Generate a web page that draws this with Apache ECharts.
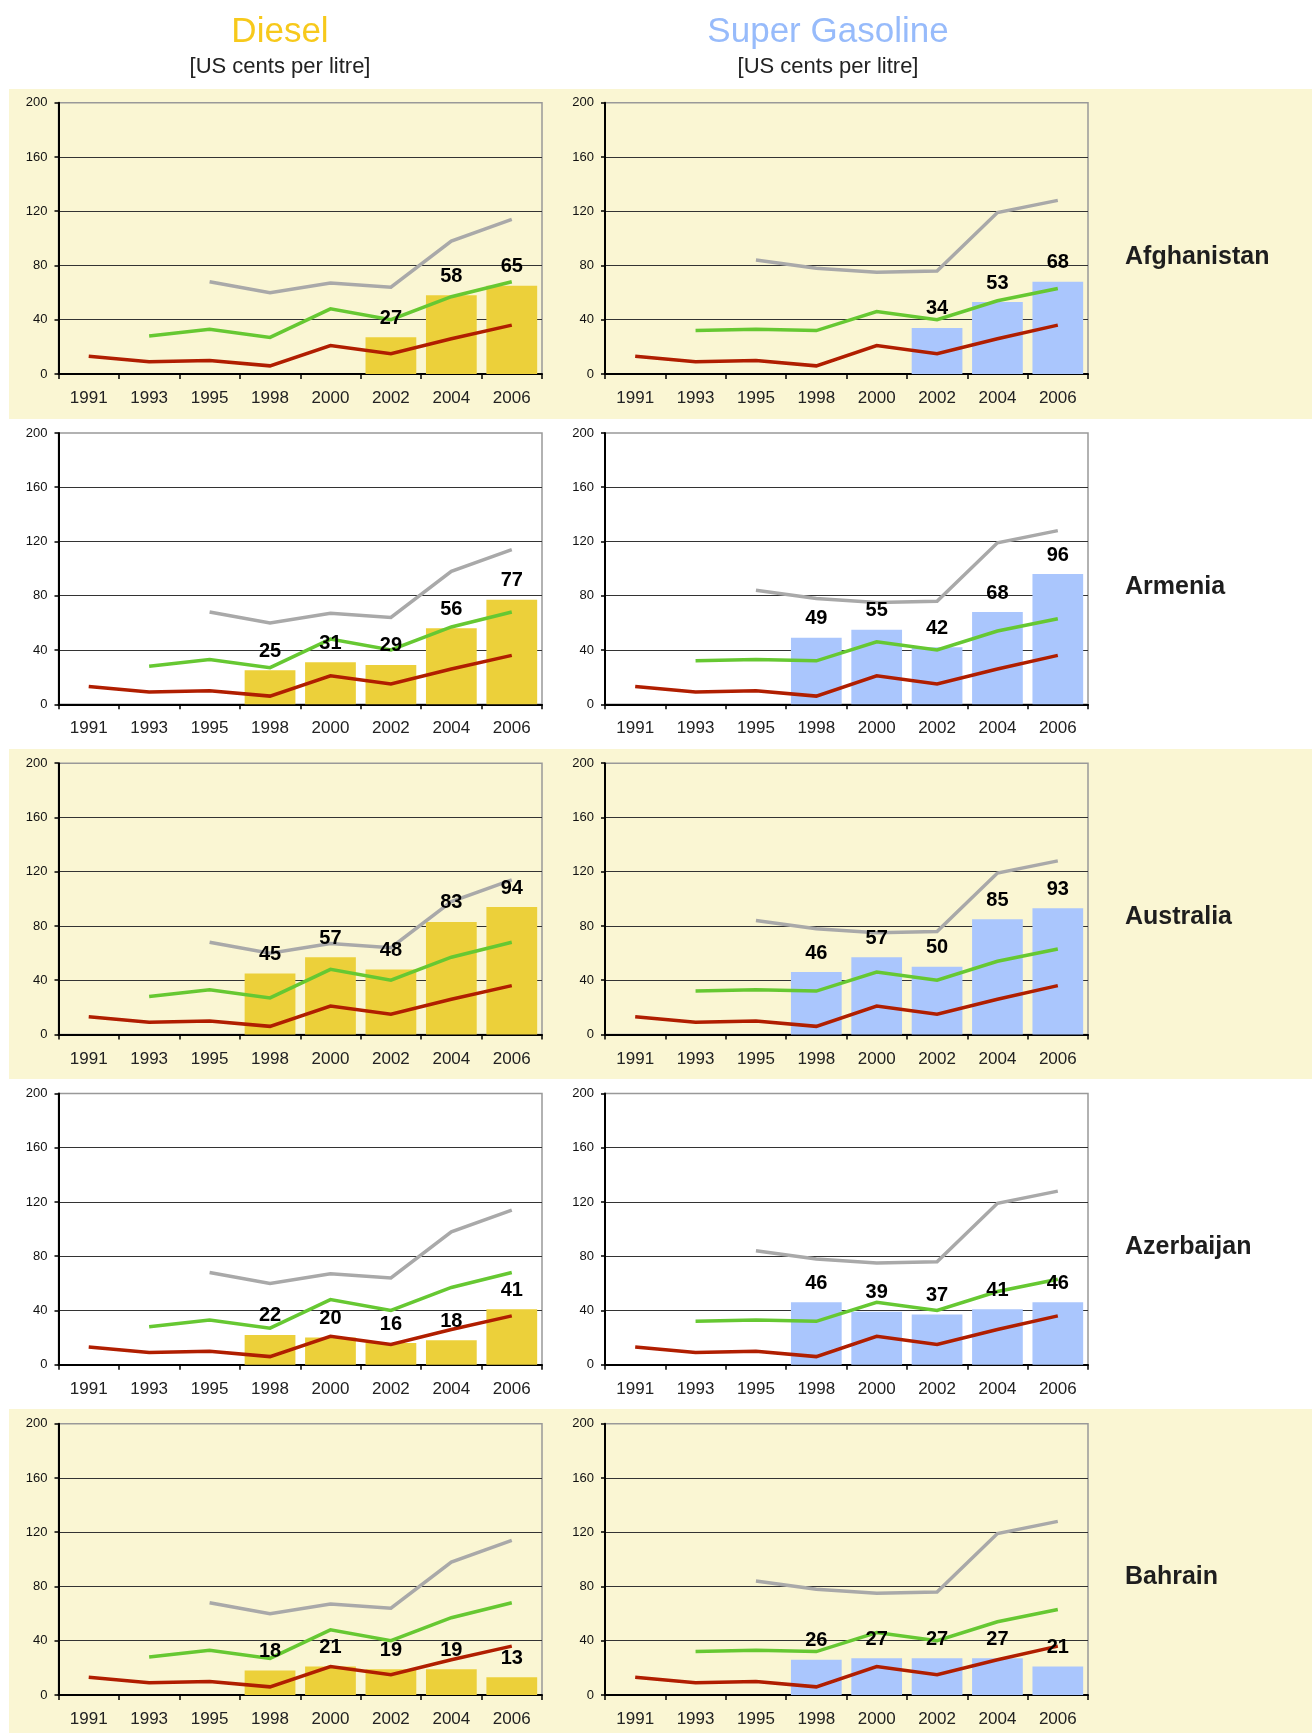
<!DOCTYPE html>
<html>
<head>
<meta charset="utf-8">
<script src="https://cdn.jsdelivr.net/npm/echarts@6/dist/echarts.min.js"></script>
<style>
html,body{margin:0;padding:0;background:#ffffff;}
#chart{width:1312px;height:1733px;}
</style>
</head>
<body>
<div id="chart"></div>
<script>
// ---- Data ----
const years = ['1991', '1993', '1995', '1998', '2000', '2002', '2004', '2006'];
const countries = ['Afghanistan', 'Armenia', 'Australia', 'Azerbaijan', 'Bahrain'];
const yTicks = [0, 40, 80, 120, 160, 200];

// Country bar values (US cents per litre)
const dieselAfghanistan   = [null, null, null, null, null, 27, 58, 65];
const gasolineAfghanistan = [null, null, null, null, null, 34, 53, 68];
const dieselArmenia       = [null, null, null, 25, 31, 29, 56, 77];
const gasolineArmenia     = [null, null, null, 49, 55, 42, 68, 96];
const dieselAustralia     = [null, null, null, 45, 57, 48, 83, 94];
const gasolineAustralia   = [null, null, null, 46, 57, 50, 85, 93];
const dieselAzerbaijan    = [null, null, null, 22, 20, 16, 18, 41];
const gasolineAzerbaijan  = [null, null, null, 46, 39, 37, 41, 46];
const dieselBahrain       = [null, null, null, 18, 21, 19, 19, 13];
const gasolineBahrain     = [null, null, null, 26, 27, 27, 27, 21];

// Benchmark lines (same in every row)
const dieselGrayLine    = [null, null, 68, 60, 67, 64, 98, 114];
const dieselGreenLine   = [null, 28, 33, 27, 48, 40, 57, 68];
const dieselRedLine     = [13, 9, 10, 6, 21, 15, 26, 36];
const gasolineGrayLine  = [null, null, 84, 78, 75, 76, 119, 128];
const gasolineGreenLine = [null, 32, 33, 32, 46, 40, 54, 63];
const gasolineRedLine   = [13, 9, 10, 6, 21, 15, 26, 36];

const dieselByCountry = [dieselAfghanistan, dieselArmenia, dieselAustralia, dieselAzerbaijan, dieselBahrain];
const gasolineByCountry = [gasolineAfghanistan, gasolineArmenia, gasolineAustralia, gasolineAzerbaijan, gasolineBahrain];

// ---- Styling / layout ----
const FONT = '"Liberation Sans", Arial, Helvetica, sans-serif';
const DIESEL_COLOR = '#ecd03a';
const GASOLINE_COLOR = '#aac6fd';
const BAND_COLOR = '#faf6d3';
const ROW_PITCH = 330.25;
const GRID_TOP0 = 102.7;
const GRID_H = 271.3;
const COLS = [
  { left: 58.5, width: 483.5, bars: dieselByCountry, color: DIESEL_COLOR,
    lines: [dieselGrayLine, dieselGreenLine, dieselRedLine] },
  { left: 605, width: 483, bars: gasolineByCountry, color: GASOLINE_COLOR,
    lines: [gasolineGrayLine, gasolineGreenLine, gasolineRedLine] }
];
const LINE_COLORS = ['#a9a9a9', '#66c832', '#b01e00'];

const grids = [], xAxes = [], yAxes = [], series = [], graphics = [];

// background bands
for (let r = 0; r < countries.length; r += 2) {
  graphics.push({
    type: 'rect', z: -10, silent: true,
    shape: { x: 9, y: 89 + 330 * r, width: 1312 - 9, height: 330 },
    style: { fill: BAND_COLOR }
  });
}
// country names
countries.forEach((c, r) => {
  graphics.push({
    type: 'text', z: 10, x: 1125, y: 257 + 330 * r,
    style: { text: c, font: 'bold 25px ' + FONT, fill: '#1e1e1e', textVerticalAlign: 'middle', textAlign: 'left' }
  });
});
// headers
[['Diesel', 280, '#f7c91b'], ['Super Gasoline', 828, '#97bbfb']].forEach(([t, x, col]) => {
  graphics.push({ type: 'text', x: x, y: 32,
    style: { text: t, font: '35px ' + FONT, fill: col, textAlign: 'center', textVerticalAlign: 'middle' } });
  graphics.push({ type: 'text', x: x, y: 67,
    style: { text: '[US cents per litre]', font: '22px ' + FONT, fill: '#222', textAlign: 'center', textVerticalAlign: 'middle' } });
});

let gi = 0;
for (let r = 0; r < countries.length; r++) {
  COLS.forEach((col) => {
    grids.push({
      left: col.left, width: col.width,
      top: GRID_TOP0 + ROW_PITCH * r, height: GRID_H,
      show: true, borderColor: '#999', borderWidth: 1.5, backgroundColor: 'transparent'
    });
    xAxes.push({
      type: 'category', gridIndex: gi, data: years, boundaryGap: true,
      axisLine: { lineStyle: { color: '#000', width: 2 } },
      axisTick: { show: true, length: 5, lineStyle: { color: '#000', width: 1.5 } },
      axisLabel: { fontSize: 17, color: '#222', margin: 16, fontFamily: FONT },
      splitLine: { show: false }
    });
    yAxes.push({
      type: 'value', gridIndex: gi, min: 0, max: 200, interval: 40,
      axisLine: { show: true, lineStyle: { color: '#000', width: 2 } },
      axisTick: { show: true, length: 4, lineStyle: { color: '#000', width: 1.5 } },
      axisLabel: { fontSize: 13, color: '#111', margin: 11, fontFamily: FONT,
        formatter: (v) => yTicks.includes(v) ? String(v) : '' },
      splitLine: { show: true, showMaxLine: false, showMinLine: false, lineStyle: { color: '#333', width: 1 } }
    });
    const barData = col.bars[r];
    series.push({
      type: 'bar', xAxisIndex: gi, yAxisIndex: gi, data: barData,
      barCategoryGap: '16%', itemStyle: { color: col.color }, z: 2, silent: true
    });
    col.lines.forEach((ld, li) => {
      series.push({
        type: 'line', xAxisIndex: gi, yAxisIndex: gi, data: ld,
        symbol: 'none', connectNulls: false, z: 3, silent: true,
        lineStyle: { color: LINE_COLORS[li], width: 3.5, cap: 'butt', join: 'miter' }
      });
    });
    // value labels above bars (on top of lines)
    series.push({
      type: 'scatter', xAxisIndex: gi, yAxisIndex: gi, data: barData,
      symbolSize: 0, z: 6, silent: true,
      label: { show: true, position: 'top', distance: 9, fontSize: 20, fontWeight: 'bold',
        color: '#000', opacity: 1, textBorderWidth: 0, fontFamily: FONT }
    });
    gi++;
  });
}

const chart = echarts.init(document.getElementById('chart'), null, { renderer: 'canvas' });
chart.setOption({
  animation: false,
  backgroundColor: '#ffffff',
  grid: grids,
  xAxis: xAxes,
  yAxis: yAxes,
  series: series,
  graphic: graphics
});
</script>
</body>
</html>
